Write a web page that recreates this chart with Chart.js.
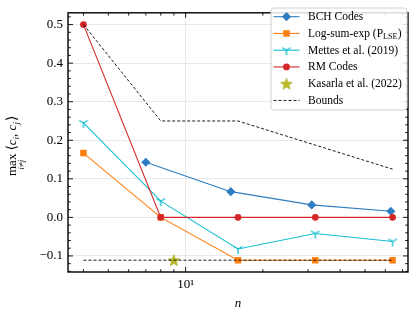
<!DOCTYPE html>
<html>
<head>
<meta charset="utf-8">
<script src="https://cdn.jsdelivr.net/npm/chart.js@4/dist/chart.umd.min.js"></script>
<style>
  html, body { margin: 0; padding: 0; background: #fff; }
  #wrap { width: 415px; height: 311px; }
</style>
</head>
<body>
<div id="wrap"><canvas id="myChart" width="415" height="311"></canvas></div>
<script>
// values
const nPow2 = [4, 8, 16, 32, 64];
const nBch = [7, 15, 31, 63];
const bchVals = [0.1429, 0.0667, 0.0323, 0.0159];
const lseVals = [0.1667, 0.0, -0.1111, -0.1111, -0.1111];
const mettesVals = [0.245, 0.042, -0.082, -0.042, -0.0625];
const rmVals = [0.5, 0.0, 0.0, 0.0, 0.0];
const kasarlaN = [9];
const kasarlaVals = [-0.1111];
const upperBound = [0.5, 0.25, 0.25, 0.1875, 0.125];
const lowerBound = [-0.1111, -0.1111, -0.1111, -0.1111, -0.1111];
const yTicks = [-0.1, 0.0, 0.1, 0.2, 0.3, 0.4, 0.5];
const xMajor = [10];
const xMinor = [4, 5, 6, 7, 8, 9, 20, 30, 40, 50, 60, 70];

const SERIF = "'Liberation Serif', 'DejaVu Serif', serif";
const C_BLUE = '#2e7dc0', C_ORANGE = '#ff7f0e', C_CYAN = '#17becf',
      C_RED = '#d62728', C_OLIVE = '#bcbd22';

const pts = (xs, ys) => xs.map((x, i) => ({x: x, y: ys[i]}));

// tri_down marker
function triMarker(color) {
  const c = document.createElement('canvas');
  c.width = 12; c.height = 12;
  const g = c.getContext('2d');
  g.strokeStyle = color; g.lineWidth = 1.4; g.lineCap = 'butt';
  g.beginPath();
  g.moveTo(6, 6); g.lineTo(6, 11);
  g.moveTo(6, 6); g.lineTo(6 - 4.3, 6 - 2.5);
  g.moveTo(6, 6); g.lineTo(6 + 4.3, 6 - 2.5);
  g.stroke();
  return c;
}
function starMarker(color) {
  const c = document.createElement('canvas');
  c.width = 14; c.height = 14;
  const g = c.getContext('2d');
  g.fillStyle = color; g.strokeStyle = '#9a9b10'; g.lineWidth = 0.6;
  g.beginPath();
  for (let i = 0; i < 10; i++) {
    const r = i % 2 === 0 ? 6 : 2.5;
    const a = -Math.PI / 2 + i * Math.PI / 5;
    const px = 7 + r * Math.cos(a), py = 7.6 + r * Math.sin(a);
    if (i === 0) g.moveTo(px, py); else g.lineTo(px, py);
  }
  g.closePath(); g.fill(); g.stroke();
  return c;
}
const triImg = triMarker(C_CYAN);
const starImg = starMarker(C_OLIVE);

const datasets = [
  {label: 'BCH Codes', data: pts(nBch, bchVals), borderColor: C_BLUE, backgroundColor: C_BLUE,
   pointStyle: 'rectRot', pointRadius: 4.6, order: 5},
  {label: 'Log-sum-exp', data: pts(nPow2, lseVals), borderColor: C_ORANGE, backgroundColor: C_ORANGE,
   pointStyle: 'rect', pointRadius: 4.6, order: 4},
  {label: 'Mettes et al. (2019)', data: pts(nPow2, mettesVals), borderColor: C_CYAN, backgroundColor: C_CYAN,
   pointStyle: triImg, pointRadius: 6, order: 3},
  {label: 'RM Codes', data: pts(nPow2, rmVals), borderColor: C_RED, backgroundColor: C_RED,
   pointStyle: 'circle', pointRadius: 3.4, order: 2},
  {label: 'Kasarla et al. (2022)', data: pts(kasarlaN, kasarlaVals), borderColor: C_OLIVE, backgroundColor: C_OLIVE,
   pointStyle: starImg, pointRadius: 7, showLine: false, order: 1},
  {label: 'Bounds', data: pts(nPow2, upperBound), borderColor: '#000', borderDash: [3, 2], borderWidth: 0.9,
   pointRadius: 0, order: 0},
  {label: 'Bounds (lower)', data: pts(nPow2, lowerBound), borderColor: '#000', borderDash: [3, 2], borderWidth: 0.9,
   pointRadius: 0, order: 0}
];
datasets.forEach(d => {
  if (d.borderWidth === undefined) d.borderWidth = 1.1;
  d.pointBorderWidth = 0;
  d.pointHoverRadius = d.pointRadius;
});

const legendItems = [
  {text: 'BCH Codes', color: C_BLUE, style: 'rectRot', r: 4.6, line: true},
  {text: 'Log-sum-exp (P', sub: 'LSE', after: ')', color: C_ORANGE, style: 'rect', r: 4.6, line: true},
  {text: 'Mettes et al. (2019)', color: C_CYAN, style: triImg, r: 6, line: true},
  {text: 'RM Codes', color: C_RED, style: 'circle', r: 3.4, line: true},
  {text: 'Kasarla et al. (2022)', color: C_OLIVE, style: starImg, r: 7, line: false},
  {text: 'Bounds', color: '#000', style: null, line: true, dash: [3, 2]}
];

const framePlugin = {
  id: 'frame',
  afterDatasetsDraw(chart) {
    const {ctx, chartArea: a, scales: {x, y}} = chart;
    ctx.save();
    ctx.strokeStyle = '#000';
    ctx.lineWidth = 0.9;
    ctx.beginPath();
    const tick = (px, len, vertical) => {
      if (vertical) {
        ctx.moveTo(px, a.bottom); ctx.lineTo(px, a.bottom - len);
        ctx.moveTo(px, a.top); ctx.lineTo(px, a.top + len);
      } else {
        ctx.moveTo(a.left, px); ctx.lineTo(a.left + len, px);
        ctx.moveTo(a.right, px); ctx.lineTo(a.right - len, px);
      }
    };
    xMajor.forEach(v => tick(x.getPixelForValue(v), 5, true));
    xMinor.forEach(v => tick(x.getPixelForValue(v), 2.8, true));
    yTicks.forEach(v => tick(y.getPixelForValue(v), 5, false));
    for (let v = -0.14; v <= 0.53; v += 0.02) {
      const k = Math.round(v * 50);
      if (k % 5 === 0) continue;
      tick(y.getPixelForValue(k / 50), 2.8, false);
    }
    ctx.stroke();
    ctx.lineWidth = 1.4;
    ctx.strokeRect(a.left, a.top, a.right - a.left, a.bottom - a.top);
    ctx.restore();
  },
  afterDraw(chart) {
    const ctx = chart.ctx;
    ctx.save();
    // y label: max over i!=j of <c_i, c_j>
    ctx.translate(16, 176);
    ctx.rotate(-Math.PI / 2);
    ctx.fillStyle = '#000';
    ctx.textBaseline = 'alphabetic';
    ctx.textAlign = 'left';
    ctx.font = '13px ' + SERIF;
    ctx.fillText('max', 0, 0);
    const wMax = ctx.measureText('max').width;
    ctx.font = 'italic 9px ' + SERIF;
    ctx.textAlign = 'center';
    ctx.fillText('i\u2260j', wMax / 2, 7.5);
    ctx.textAlign = 'left';
    let cx = wMax + 3;
    const put = (t, font, dy) => {
      ctx.font = font;
      ctx.fillText(t, cx, dy || 0);
      cx += ctx.measureText(t).width;
    };
    put('\u27E8', '14px ' + SERIF);
    put('c', 'italic 13px ' + SERIF);
    put('i', 'italic 9px ' + SERIF, 3);
    put(', ', '13px ' + SERIF);
    put('c', 'italic 13px ' + SERIF);
    put('j', 'italic 9px ' + SERIF, 3);
    cx += 1;
    put('\u27E9', '14px ' + SERIF);
    ctx.restore();

    // legend
    ctx.save();
    const bx = 271, by = 8, bw = 136, bh = 102;
    ctx.beginPath();
    ctx.roundRect(bx, by, bw, bh, 3);
    ctx.fillStyle = 'rgba(255,255,255,0.85)';
    ctx.fill();
    ctx.strokeStyle = '#d0d0d0';
    ctx.lineWidth = 1;
    ctx.stroke();
    legendItems.forEach((it, i) => {
      const yy = 16.7 + i * 16.75;
      ctx.strokeStyle = it.color;
      ctx.lineWidth = it.dash ? 0.9 : 1.1;
      ctx.setLineDash(it.dash || []);
      if (it.line) {
        ctx.beginPath(); ctx.moveTo(273.5, yy); ctx.lineTo(299.5, yy); ctx.stroke();
      }
      ctx.setLineDash([]);
      if (it.style) {
        ctx.fillStyle = it.color;
        Chart.helpers.drawPoint(ctx, {pointStyle: it.style, radius: it.r, rotation: 0, borderWidth: 0}, 286.5, yy);
      }
      ctx.fillStyle = '#000';
      ctx.textBaseline = 'middle';
      ctx.textAlign = 'left';
      ctx.font = '11.5px ' + SERIF;
      ctx.fillText(it.text, 308, yy + 0.5);
      if (it.sub) {
        let tx = 308 + ctx.measureText(it.text).width;
        ctx.font = '8px ' + SERIF;
        ctx.fillText(it.sub, tx, yy + 3);
        tx += ctx.measureText(it.sub).width + 0.5;
        ctx.font = '11.5px ' + SERIF;
        ctx.fillText(it.after, tx, yy + 0.5);
      }
    });
    ctx.restore();
  }
};

const config = {
  type: 'line',
  data: {datasets: datasets},
  options: {
    responsive: false,
    animation: false,
    devicePixelRatio: 1,
    layout: {padding: {left: 0, right: 2, top: 3, bottom: 0}},
    plugins: {legend: {display: false}, tooltip: {enabled: false}},
    scales: {
      x: {
        type: 'logarithmic',
        min: 3.482,
        max: 73.5,
        afterBuildTicks: (s) => { s.ticks = xMajor.map(v => ({value: v})); },
        afterFit: (s) => { s.height = 39; },
        ticks: {
          callback: (v) => v === 10 ? '10\u00B9' : '',
          font: {family: SERIF, size: 13},
          color: '#000',
          padding: 5,
          maxRotation: 0,
          autoSkip: false
        },
        grid: {color: '#e6e6e6', lineWidth: 0.9, drawTicks: false},
        border: {display: false},
        title: {display: true, text: 'n', font: {family: SERIF, size: 13, style: 'italic'}, color: '#000',
                padding: {top: 0, bottom: 0}}
      },
      y: {
        type: 'linear',
        min: -0.1417,
        max: 0.5306,
        afterBuildTicks: (s) => { s.ticks = yTicks.map(v => ({value: v})); },
        afterFit: (s) => { s.width = 68; },
        ticks: {
          callback: (v) => (v < 0 ? '\u2212' : '') + Math.abs(v).toFixed(1),
          font: {family: SERIF, size: 13},
          color: '#000',
          padding: 5
        },
        grid: {color: '#e6e6e6', lineWidth: 0.9, drawTicks: false},
        border: {display: false}
      }
    }
  },
  plugins: [framePlugin]
};

var ctx = document.getElementById('myChart').getContext('2d');
var myChart = new Chart(ctx, config);
</script>
</body>
</html>
